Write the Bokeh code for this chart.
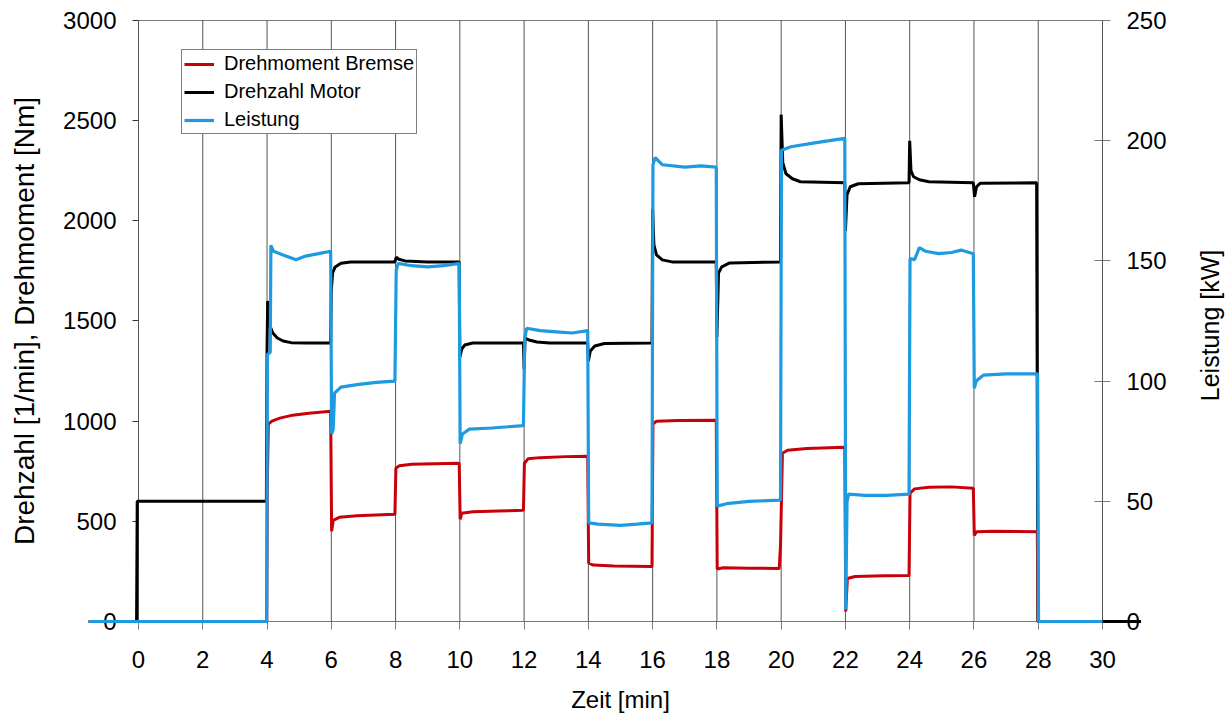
import math
from bokeh.plotting import figure
from bokeh.models import Range1d, LinearAxis, FixedTicker, Legend, LegendItem, Label
from bokeh.embed import file_html
from bokeh.resources import INLINE

FONT = "Liberation Sans"

# ---------------- data ----------------
x_ticks = list(range(0, 31, 2))
left_ticks = [0, 500, 1000, 1500, 2000, 2500, 3000]
right_ticks = [0, 50, 100, 150, 200, 250]

t_drehzahl = [-1.55, -0.06, -0.04, 3.98, 4.0, 4.02, 4.08, 4.18, 4.32, 4.5, 4.75, 5.2, 5.98,
              6.0, 6.04, 6.12, 6.3, 6.6, 7.98,
              8.02, 8.1, 8.3, 9.0, 9.98,
              10.0, 10.06, 10.15, 10.4, 11.98,
              12.0, 12.03, 12.15, 12.4, 12.8, 13.98,
              14.0, 14.06, 14.2, 14.5, 15.98,
              16.0, 16.04, 16.12, 16.3, 16.6, 17.98,
              18.0, 18.05, 18.15, 18.4, 19.98,
              20.0, 20.05, 20.15, 20.35, 20.6, 21.98,
              22.0, 22.05, 22.15, 22.4, 23.98,
              24.0, 24.04, 24.12, 24.3, 24.6, 25.98,
              26.02, 26.08, 26.2, 27.95, 27.99, 31.2]
drehzahl = [0, 0, 600, 600, 1350, 1600, 1480, 1440, 1415, 1400, 1392, 1390, 1390,
            1650, 1740, 1770, 1788, 1795, 1795,
            1818, 1808, 1800, 1795, 1795,
            1320, 1360, 1380, 1390, 1390,
            1260, 1415, 1405, 1395, 1390, 1390,
            1300, 1350, 1375, 1388, 1390,
            2060, 1880, 1830, 1805, 1795, 1795,
            1420, 1740, 1770, 1790, 1795,
            2530, 2290, 2235, 2210, 2195, 2190,
            1950, 2130, 2170, 2185, 2190,
            2400, 2250, 2220, 2205, 2195, 2190,
            2120, 2170, 2188, 2190, 0, 0]

t_drehmoment = [-1.55, 3.99, 4.01, 4.04, 4.15, 4.4, 4.8, 5.3, 5.98,
                6.01, 6.06, 6.25, 6.8, 7.98,
                8.01, 8.12, 8.5, 9.2, 9.98,
                10.01, 10.06, 10.4, 11.2, 11.98,
                12.01, 12.12, 12.5, 13.3, 13.98,
                14.01, 14.15, 14.8, 15.98,
                16.01, 16.12, 16.8, 17.98,
                18.01, 18.2, 19.0, 19.94,
                19.98, 20.04, 20.2, 20.8, 21.98,
                22.01, 22.06, 22.3, 23.2, 23.98,
                24.01, 24.15, 24.6, 25.3, 25.98,
                26.01, 26.08, 26.6, 27.97,
                28.0, 30.0]
drehmoment = [0, 0, 690, 985, 1000, 1015, 1030, 1040, 1050,
              450, 505, 520, 528, 535,
              765, 778, 785, 788, 790,
              510, 540, 548, 552, 555,
              790, 812, 818, 823, 825,
              292, 282, 277, 275,
              985, 1000, 1003, 1005,
              262, 268, 266, 265,
              380, 840, 855, 863, 870,
              50, 215, 225, 228, 230,
              640, 662, 670, 672, 665,
              430, 448, 450, 448,
              0, 0]

t_leistung = [-1.55, 3.99, 4.01, 4.1, 4.12, 4.2, 4.5, 4.9, 5.2, 5.6, 5.98,
              6.01, 6.06, 6.1, 6.3, 6.8, 7.4, 7.98,
              8.02, 8.08, 8.5, 9.0, 9.5, 9.98,
              10.01, 10.08, 10.3, 11.0, 11.5, 11.98,
              12.02, 12.08, 12.5, 13.0, 13.5, 13.98,
              14.01, 14.3, 15.0, 15.5, 15.98,
              16.01, 16.08, 16.3, 17.0, 17.5, 17.98,
              18.01, 18.3, 19.0, 19.98,
              20.01, 20.3, 21.0, 21.5, 21.98,
              22.01, 22.05, 22.1, 22.6, 23.3, 23.98,
              24.01, 24.15, 24.3, 24.5, 24.9, 25.3, 25.6, 25.98,
              26.01, 26.07, 26.3, 27.0, 27.5, 27.98,
              28.01, 30.0]
leistung = [0, 0, 111, 112, 156.5, 154, 152.5, 150.5, 152, 153, 154,
            78, 80, 95, 97.5, 98.5, 99.5, 100,
            146, 149, 148, 147.5, 148, 149,
            74, 78, 80, 80.5, 81, 81.5,
            118, 122, 121, 120.5, 120, 121,
            41, 40.5, 40, 40.5, 41,
            190, 193, 190, 189, 189.5, 189,
            48, 49, 50, 50.5,
            196, 197.5, 199, 200, 201,
            5, 50, 53, 52.5, 52.5, 53,
            151, 150.5, 155.5, 154, 153, 153.5, 154.5, 153,
            97, 100, 102.5, 103, 103, 103,
            0, 0]

# ---------------- figure (plot frame fills the whole canvas) ----------------
W, H = 1230, 715
PX_PER_MIN = 32.133
PX_PER_UNIT = 0.20033
X0 = -138 / PX_PER_MIN
X1 = (W - 138) / PX_PER_MIN
Y1 = 3000 + 20 / PX_PER_UNIT
Y0 = -(H - 621) / PX_PER_UNIT

p = figure(width=W, height=H, output_backend="svg", toolbar_location=None,
           x_range=Range1d(X0, X1), y_range=Range1d(Y0, Y1),
           x_axis_type=None, y_axis_type=None,
           min_border_left=0, min_border_right=0, min_border_top=0, min_border_bottom=0)
p.outline_line_color = None
p.background_fill_color = "white"
p.border_fill_color = "white"
p.xgrid.visible = False
p.ygrid.visible = False
p.extra_y_ranges = {"kw": Range1d(Y0 / 12.0, Y1 / 12.0)}

# vertical grid lines at the x ticks, spanning the axis range
p.segment(x0=x_ticks, y0=[0] * len(x_ticks), x1=x_ticks, y1=[3000] * len(x_ticks),
          line_color="#555555", line_width=1)

def style(ax, color):
    ax.axis_line_color = color
    ax.axis_line_width = 1
    ax.major_tick_line_color = color
    ax.minor_tick_line_color = None
    ax.major_label_text_font = FONT
    ax.major_label_text_font_size = "24px"
    ax.major_label_text_color = "black"
    ax.axis_label_text_font = FONT
    ax.axis_label_text_font_size = "24px"
    ax.axis_label_text_font_style = "normal"
    ax.axis_label_text_color = "black"
    ax.level = "underlay"

yl = LinearAxis(fixed_location=0, bounds=(0, 3000),
                ticker=FixedTicker(ticks=left_ticks, minor_ticks=[]),
                axis_label="Drehzahl [1/min], Drehmoment [Nm]")
style(yl, "#333333")
yl.axis_label_text_font_size = "28px"
yl.major_tick_in = 0
yl.major_tick_out = 6
yl.major_label_standoff = 16
yl.axis_label_standoff = 20
p.add_layout(yl, "left")

yr = LinearAxis(fixed_location=30, bounds=(0, 250), y_range_name="kw",
                ticker=FixedTicker(ticks=right_ticks, minor_ticks=[]))
style(yr, "#7a7a7a")
yr.major_tick_in = 8
yr.major_tick_out = 8
yr.major_label_standoff = 16
p.add_layout(yr, "right")

xb = LinearAxis(fixed_location=0, bounds=(0, 30),
                ticker=FixedTicker(ticks=x_ticks, minor_ticks=[]),
                axis_label="Zeit [min]")
style(xb, "#7a7a7a")
xb.major_tick_in = 0
xb.major_tick_out = 8
xb.major_label_standoff = 22
xb.axis_label_standoff = 14
p.add_layout(xb, "below")

xt = LinearAxis(fixed_location=3000, bounds=(0, 30),
                ticker=FixedTicker(ticks=x_ticks, minor_ticks=[]))
style(xt, "#7a7a7a")
xt.major_tick_in = 0
xt.major_tick_out = 0
xt.major_label_text_alpha = 0
p.add_layout(xt, "above")

# right axis title, reading bottom-to-top like the left one
p.add_layout(Label(x=(1209.5 - 138) / PX_PER_MIN, y=(621 - 325) / PX_PER_UNIT,
                   text="Leistung [kW]", angle=math.pi / 2,
                   text_align="center", text_baseline="middle",
                   text_font=FONT, text_font_size="25px", text_color="black"))

# ---------------- series ----------------
r_black = p.line(t_drehzahl, drehzahl, line_color="black", line_width=3)
r_red = p.line(t_drehmoment, drehmoment, line_color="#C8000A", line_width=3)
r_blue = p.line(t_leistung, leistung, line_color="#1E9BE0", line_width=3.2, y_range_name="kw")

legend = Legend(items=[LegendItem(label="Drehmoment Bremse", renderers=[r_red]),
                       LegendItem(label="Drehzahl Motor", renderers=[r_black]),
                       LegendItem(label="Leistung", renderers=[r_blue])],
                location=(181, H - 134), margin=0, padding=2, spacing=5,
                glyph_width=30, glyph_height=20, label_height=20, label_standoff=10,
                label_text_font=FONT, label_text_font_size="20px", label_text_color="black",
                border_line_color="black", border_line_width=1,
                background_fill_color="white", background_fill_alpha=1)
p.add_layout(legend, "center")

open("out.html", "w").write(file_html(p, INLINE))
